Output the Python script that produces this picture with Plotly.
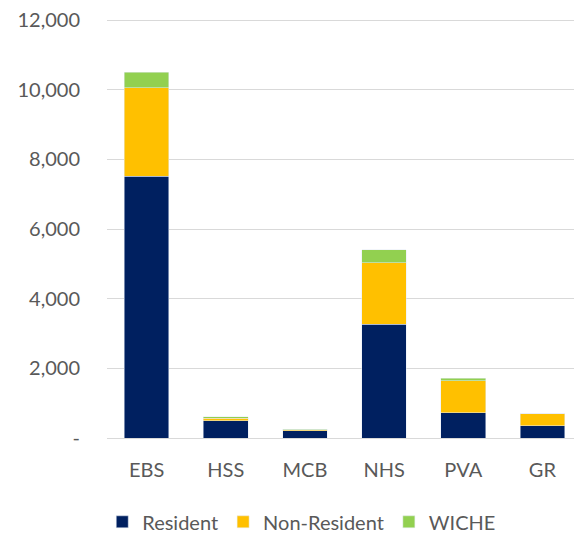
import plotly.graph_objects as go

categories = ["EBS", "HSS", "MCB", "NHS", "PVA", "GR"]
resident = [7520, 500, 210, 3260, 730, 355]
non_resident = [2530, 65, 30, 1770, 920, 335]
wiche = [450, 50, 5, 370, 65, 0]

tick_vals = [0, 2000, 4000, 6000, 8000, 10000, 12000]
tick_text = ["-", "2,000", "4,000", "6,000", "8,000", "10,000", "12,000"]

font_family = "Lato, Open Sans, sans-serif"

fig = go.Figure()
fig.add_trace(go.Bar(name="Resident", x=categories, y=resident, marker_color="#002060"))
fig.add_trace(go.Bar(name="Non-Resident", x=categories, y=non_resident, marker_color="#FFC000"))
fig.add_trace(go.Bar(name="WICHE", x=categories, y=wiche, marker_color="#92D050"))

# page body has an 8px margin, so margins are offset by 8px
fig.update_layout(
    barmode="stack",
    bargap=0.435,
    width=582,
    height=535,
    margin=dict(l=99, r=8, t=11, b=105, autoexpand=False),
    plot_bgcolor="white",
    paper_bgcolor="white",
    font=dict(family=font_family, size=20, color="#595959"),
    legend=dict(
        orientation="h",
        x=0.41,
        xanchor="center",
        y=-0.2,
        yanchor="middle",
        font=dict(size=20, color="#595959"),
        itemwidth=30,
        traceorder="normal",
    ),
    xaxis=dict(showgrid=False, showline=False, ticks="", automargin=False,
               ticklabelstandoff=18, tickfont=dict(size=20)),
    yaxis=dict(
        range=[0, 12030],
        tickvals=tick_vals,
        ticktext=tick_text,
        showgrid=True,
        gridcolor="#d9d9d9",
        gridwidth=1,
        zeroline=True,
        zerolinecolor="#d9d9d9",
        zerolinewidth=1,
        ticks="",
        automargin=False,
        ticklabelstandoff=26,
        ticklabeloverflow="allow",
        tickfont=dict(size=20),
    ),
)

fig.write_html("out.html")
